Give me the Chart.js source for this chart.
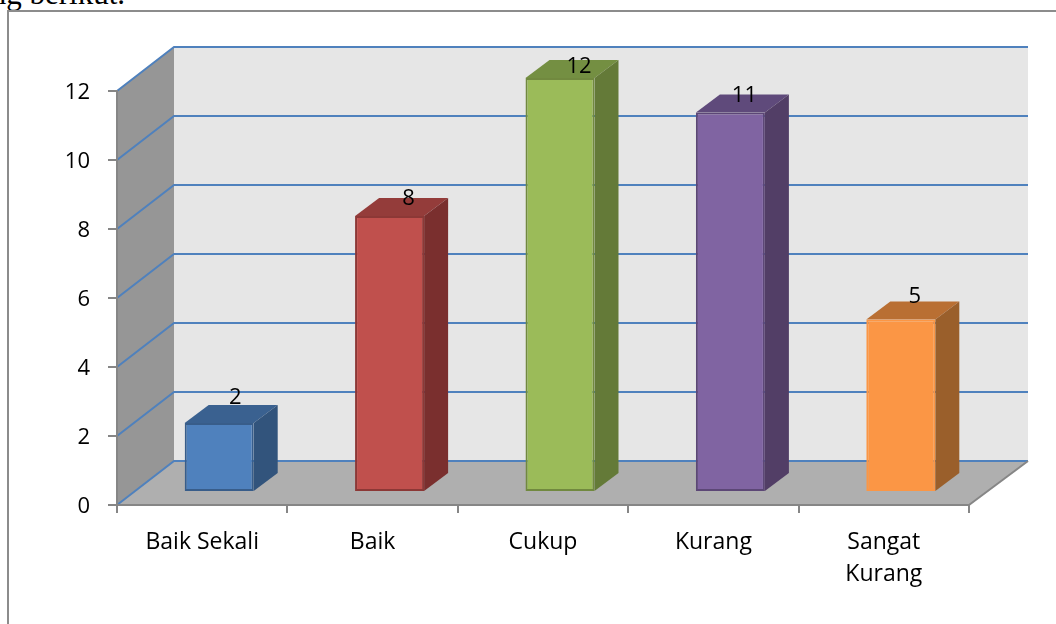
<!DOCTYPE html>
<html>
<head>
<meta charset="utf-8">
<script src="https://cdn.jsdelivr.net/npm/chart.js@4"></script>
<style>
  html, body { margin: 0; padding: 0; background: #fff; overflow: hidden; }
  #page { position: relative; width: 1056px; height: 624px; overflow: hidden; }
  #frame { position: absolute; left: 7px; top: 10px; right: -4px; bottom: -4px; border: 2px solid #8c8c8c; box-sizing: border-box; }
  #above { position: absolute; right: 931px; top: -22px; font: 31px/31px "Liberation Serif", serif; color: #000; white-space: nowrap; }
  canvas { position: absolute; left: 0; top: 0; }
</style>
</head>
<body>
<div id="page">
  <div id="above">ng berikut.</div>
  <div id="frame"></div>
  <canvas id="chart" width="1056" height="624"></canvas>
</div>
<script>
const categories = ["Baik Sekali", "Baik", "Cukup", "Kurang", ["Sangat", "Kurang"]];
const values = [2, 8, 12, 11, 5];
const yTicks = [0, 2, 4, 6, 8, 10, 12];

const frontColors = ["#4f81bd", "#c0504d", "#9bbb59", "#8064a2", "#fb9645"];
const edgeColors = ["#385d8a", "#8c3836", "#71893f", "#5c4776", "#fb9645"];
const topColors = ["#3a6190", "#943c3a", "#748f42", "#5f4a7b", "#b96f33"];
const sideColors = ["#32547c", "#7a2f2e", "#647a38", "#523e66", "#9a5f2b"];

// fake 3D: how far the walls and bars are pushed back
const wallDx = 57, wallDxRight = 59, wallDy = -44;
const barDx = 17, barDy = -13;
const depthDx = 24, depthDy = -18;
const labelNudgeX = [16, 19, 19, 14, 14];
const labelNudgeY = [-25, -17, -11, -17, -23];

function poly(ctx, pts, fill) {
  ctx.beginPath();
  pts.forEach((p, i) => i ? ctx.lineTo(p[0], p[1]) : ctx.moveTo(p[0], p[1]));
  ctx.closePath();
  ctx.fillStyle = fill;
  ctx.fill();
}

const walls = {
  id: "walls",
  beforeDraw(chart) {
    const { ctx, chartArea: a, scales: { y } } = chart;
    // tick numbers sit a touch low in the original
    y.getLabelItems(a).forEach(item => { item.options.translation[1] += 2; });

    const top = y.getPixelForValue(12), bottom = y.getPixelForValue(0);
    const backL = a.left + wallDx, backR = a.right + wallDxRight;
    poly(ctx, [[backL, top + wallDy], [backR, top + wallDy], [backR, bottom + wallDy], [backL, bottom + wallDy]], "#e6e6e6");
    poly(ctx, [[a.left, top], [backL, top + wallDy], [backL, bottom + wallDy], [a.left, bottom]], "#969696");
    poly(ctx, [[a.left, bottom], [a.right, bottom], [backR, bottom + wallDy], [backL, bottom + wallDy]], "#afafaf");

    ctx.strokeStyle = "#4f81bd";
    ctx.lineWidth = 2;
    yTicks.forEach(v => {
      const py = y.getPixelForValue(v);
      ctx.beginPath();
      ctx.moveTo(a.left, py);
      ctx.lineTo(backL, py + wallDy);
      ctx.lineTo(backR, py + wallDy);
      ctx.stroke();
    });

    ctx.strokeStyle = "#868686";
    ctx.beginPath();
    ctx.moveTo(a.right, bottom);
    ctx.lineTo(backR, bottom + wallDy);
    ctx.stroke();
  }
};

const bars3d = {
  id: "bars3d",
  beforeDatasetDraw(chart, args) {
    const ctx = chart.ctx;
    args.meta.data.forEach((bar, i) => {
      const r = bar.x + bar.width / 2 + barDx, l = bar.x - bar.width / 2 + barDx;
      const t = bar.y + barDy, b = bar.base + barDy;
      poly(ctx, [[l, t], [r, t], [r + depthDx, t + depthDy], [l + depthDx, t + depthDy]], topColors[i]);
      poly(ctx, [[r, t], [r + depthDx, t + depthDy], [r + depthDx, b + depthDy], [r, b]], sideColors[i]);
    });
    ctx.save();
    ctx.translate(barDx, barDy);
  },
  afterDatasetDraw(chart) {
    chart.ctx.restore();
  },
  afterDatasetsDraw(chart) {
    const ctx = chart.ctx;
    ctx.save();
    ctx.font = '22px "Open Sans", sans-serif';
    ctx.fillStyle = "#000";
    ctx.textAlign = "center";
    ctx.textBaseline = "middle";
    chart.getDatasetMeta(0).data.forEach((bar, i) => {
      ctx.fillText(values[i], bar.x + barDx + labelNudgeX[i], bar.y + barDy + labelNudgeY[i]);
    });
    ctx.restore();
  }
};

new Chart(document.getElementById("chart"), {
  type: "bar",
  data: {
    labels: categories,
    datasets: [{
      data: values,
      backgroundColor: frontColors,
      borderColor: edgeColors,
      borderWidth: 2,
      borderSkipped: false,
      barPercentage: 0.405,
      categoryPercentage: 1
    }]
  },
  options: {
    responsive: false,
    animation: false,
    layout: { padding: { top: 91, right: 87, left: 0, bottom: 0 } },
    plugins: { legend: { display: false }, tooltip: { enabled: false } },
    scales: {
      x: {
        afterFit(s) { s.height = 119; },
        border: { color: "#868686", width: 2 },
        grid: { drawOnChartArea: false, color: "#868686", lineWidth: 2, tickLength: 8, offset: true },
        ticks: { color: "#000", padding: 13, maxRotation: 0, autoSkip: false, font: { family: '"Open Sans", sans-serif', size: 23, lineHeight: 1.39 } }
      },
      y: {
        min: 0,
        max: 12,
        afterFit(s) { s.width = 117; },
        afterBuildTicks(s) { s.ticks = yTicks.map(v => ({ value: v })); },
        border: { color: "#868686", width: 2 },
        grid: { drawOnChartArea: false, color: "#868686", lineWidth: 2, tickLength: 9 },
        ticks: { color: "#000", padding: 18, font: { family: '"Open Sans", sans-serif', size: 22 } }
      }
    }
  },
  plugins: [walls, bars3d]
});
</script>
</body>
</html>
